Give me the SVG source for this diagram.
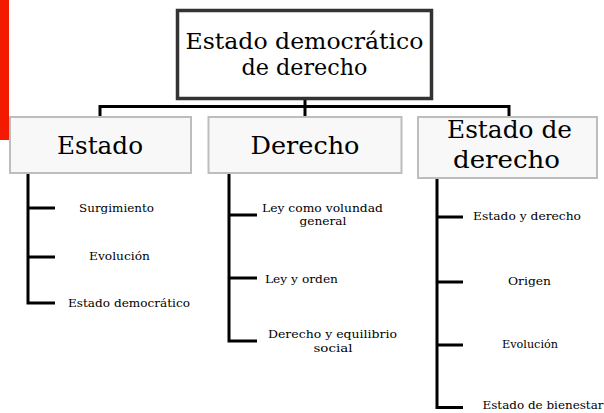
<svg xmlns="http://www.w3.org/2000/svg" width="604" height="413" viewBox="0 0 604 413">
<style>
.t{font-family:"DejaVu Serif","Liberation Serif",serif;fill:#000;text-anchor:middle}
.big{font-size:25px}
.root{font-size:22px}
.sm{font-size:11px}
.box{fill:#f8f8f8;stroke:#bdbdbd;stroke-width:2}
.c{fill:none;stroke:#000;stroke-width:3}
</style>
<rect x="0" y="0" width="9" height="140" fill="#f21a00"/>
<g id="connectors">
<path class="c" d="M305 99V117M100 117V106.5H509V117M305 106.5V117"/>
<path class="c" d="M28 173V303H55M28 208H55M28 257H55"/>
<path class="c" d="M229 173V341H257M229 215H257M229 278H257"/>
<path class="c" d="M437 178V407.5H463M437 217H463M437 282H463M437 345H463"/>
</g>
<g id="root">
<rect x="177.5" y="10.5" width="254" height="88" fill="#fff" stroke="#333" stroke-width="3.5"/>
<text class="t root" x="304.5" y="48.5" textLength="238" lengthAdjust="spacingAndGlyphs">Estado democrático</text>
<text class="t root" x="304.5" y="75" textLength="126" lengthAdjust="spacingAndGlyphs">de derecho</text>
</g>
<g id="estado">
<rect class="box" x="10" y="117" width="181" height="56"/>
<text class="t big" x="100" y="154" textLength="86" lengthAdjust="spacingAndGlyphs">Estado</text>
</g>
<g id="derecho">
<rect class="box" x="208.5" y="117" width="193" height="56"/>
<text class="t big" x="305" y="154" textLength="109" lengthAdjust="spacingAndGlyphs">Derecho</text>
</g>
<g id="estado-de-derecho">
<rect class="box" x="418" y="117" width="179" height="61"/>
<text class="t big" x="509.5" y="138" textLength="125" lengthAdjust="spacingAndGlyphs">Estado de</text>
<text class="t big" x="506.5" y="168" textLength="107" lengthAdjust="spacingAndGlyphs">derecho</text>
</g>
<g id="surgimiento"><text class="t sm" x="116.5" y="212" textLength="75" lengthAdjust="spacingAndGlyphs">Surgimiento</text></g>
<g id="evolucion1"><text class="t sm" x="119.5" y="260" textLength="61" lengthAdjust="spacingAndGlyphs">Evolución</text></g>
<g id="estado-democratico"><text class="t sm" x="129" y="307" textLength="122" lengthAdjust="spacingAndGlyphs">Estado democrático</text></g>
<g id="ley-volundad">
<text class="t sm" x="322.5" y="212" textLength="121" lengthAdjust="spacingAndGlyphs">Ley como volundad</text>
<text class="t sm" x="323" y="225" textLength="47" lengthAdjust="spacingAndGlyphs">general</text>
</g>
<g id="ley-orden"><text class="t sm" x="301.5" y="283" textLength="73" lengthAdjust="spacingAndGlyphs">Ley y orden</text></g>
<g id="derecho-equilibrio">
<text class="t sm" x="332.5" y="338" textLength="129" lengthAdjust="spacingAndGlyphs">Derecho y equilibrio</text>
<text class="t sm" x="333" y="352" textLength="39" lengthAdjust="spacingAndGlyphs">social</text>
</g>
<g id="estado-y-derecho"><text class="t sm" x="527" y="220" textLength="108" lengthAdjust="spacingAndGlyphs">Estado y derecho</text></g>
<g id="origen"><text class="t sm" x="529.5" y="285" textLength="43" lengthAdjust="spacingAndGlyphs">Origen</text></g>
<g id="evolucion2"><text class="t sm" x="530" y="348" textLength="56" lengthAdjust="spacingAndGlyphs">Evolución</text></g>
<g id="estado-bienestar"><text class="t sm" x="543" y="409" textLength="121" lengthAdjust="spacingAndGlyphs">Estado de bienestar</text></g>
</svg>
